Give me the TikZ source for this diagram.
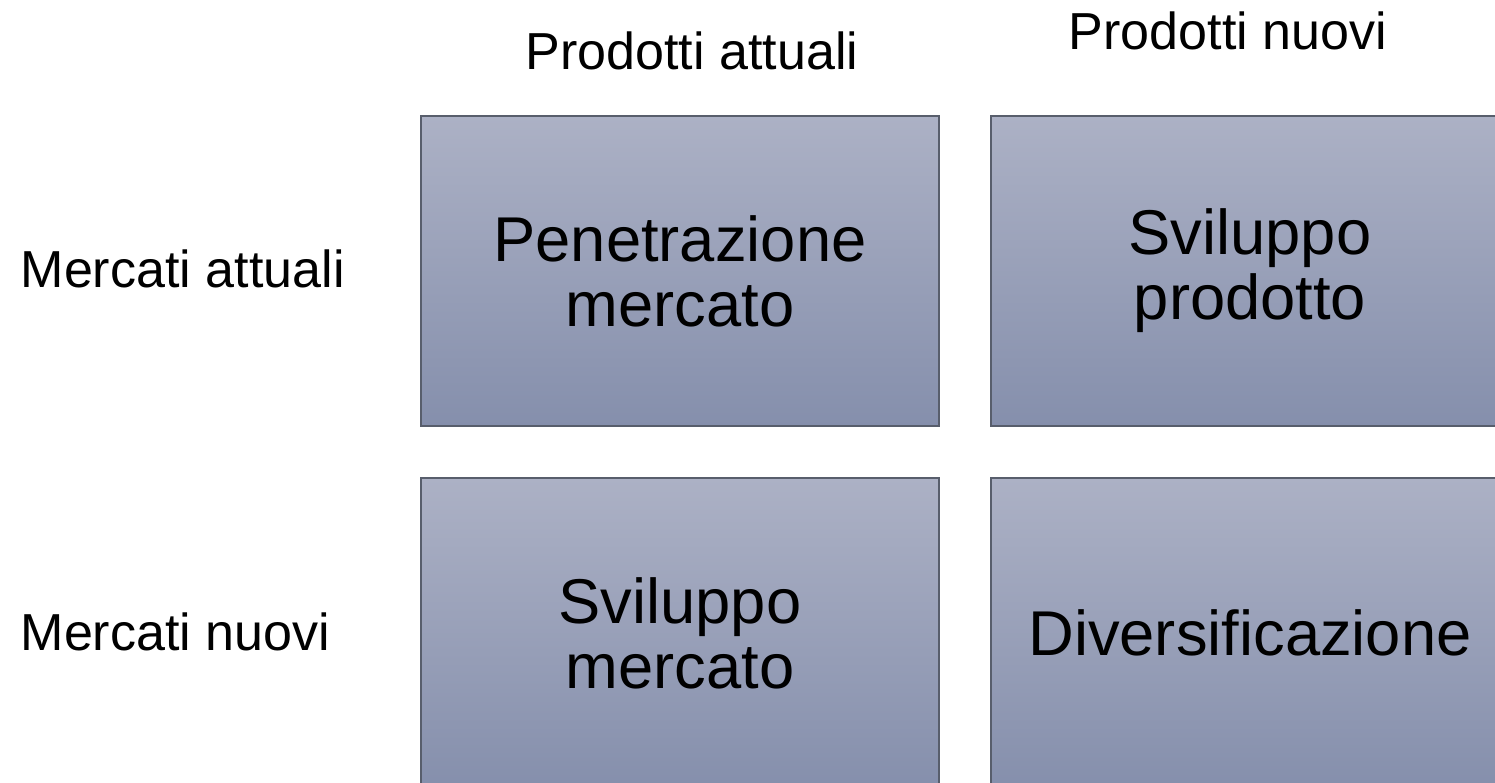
\documentclass[tikz,border=0pt]{standalone}
\usepackage{fontspec}
\setmainfont{Liberation Sans}
\usepackage{tikz}

\definecolor{celltop}{RGB}{172,177,197}
\definecolor{cellbot}{RGB}{133,143,172}
\definecolor{cellrim}{RGB}{88,94,108}

\tikzset{
	cell/.style={draw=cellrim, line width=0.6pt, top color=celltop, bottom color=cellbot,
		minimum width=5.18cm, minimum height=3.1cm, align=center,
		font=\fontsize{18}{18.5}\selectfont, inner sep=0pt},
	head/.style={font=\fontsize{14.8}{16}\selectfont, inner sep=0pt}
}

\begin{document}
\begin{tikzpicture}[x=0.01cm,y=-0.01cm]
	\useasboundingbox (0,0) rectangle (1495,783);
	\clip (0,0) rectangle (1495,783);
	%\draw[help lines] (0,0) grid[step=100] (1495,783);
	\node[cell] (pm) at (680,271) {Penetrazione\\mercato};
	\node[cell] (sp) at (1250,271) {Sviluppo\\prodotto};
	\node[cell] (sm) at (680,633) {Sviluppo\\mercato};
	\node[cell] (dv) at (1250,633) {Diversificazione};
	\node[head, anchor=base] (pa) at (692,70) {Prodotti attuali};
	\node[head, anchor=base] (pn) at (1228,50) {Prodotti nuovi};
	\node[head, anchor=base west] (ma) at (20,288) {Mercati attuali};
	\node[head, anchor=base west] (mn) at (20,650) {Mercati nuovi};
\end{tikzpicture}
\end{document}
